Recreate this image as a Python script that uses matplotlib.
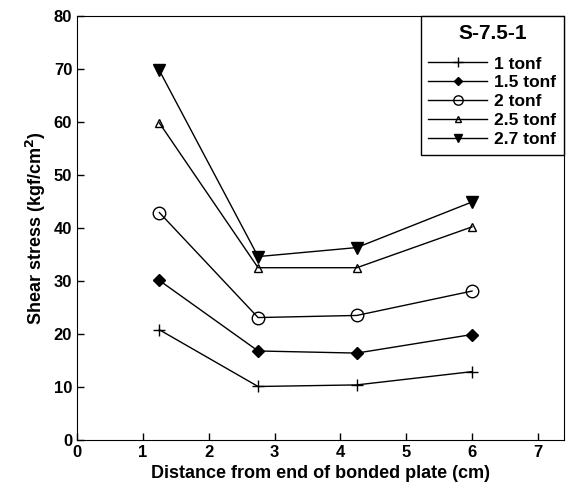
import matplotlib
matplotlib.use("Agg")
import matplotlib.pyplot as plt

plt.rcParams['font.family'] = ['Liberation Sans', 'DejaVu Sans']

distance = [1.25, 2.75, 4.25, 6.0]
labels = ["1 tonf", "1.5 tonf", "2 tonf", "2.5 tonf", "2.7 tonf"]
s_1 = [20.8, 10.1, 10.4, 12.9]
s_15 = [30.1, 16.8, 16.4, 19.9]
s_2 = [42.9, 23.1, 23.5, 28.1]
s_25 = [59.8, 32.5, 32.5, 40.2]
s_27 = [69.7, 34.6, 36.3, 44.9]
series = [s_1, s_15, s_2, s_25, s_27]
markers = ['+', 'D', 'o', '^', 'v']
mfc = ['black', 'black', 'none', 'none', 'black']
msize = [9, 6, 9, 6, 8]

fig = plt.figure(figsize=(5.71, 4.95), dpi=100)
ax = fig.add_axes([0.135, 0.111, 0.853, 0.857])

for vals, lab, m, fc, ms in zip(series, labels, markers, mfc, msize):
    ax.plot(distance, vals, color='black', lw=1.0, marker=m, markersize=ms,
            markerfacecolor=fc, markeredgecolor='black', markeredgewidth=1.0,
            label=lab)

ax.set_xlim(0, 7.4)
ax.set_ylim(0, 80)
ax.set_xticks(range(0, 8))
ax.set_yticks(range(0, 81, 10))
ax.tick_params(direction='in', length=5, labelsize=12, width=1)
for t in ax.get_xticklabels() + ax.get_yticklabels():
    t.set_fontweight('bold')
ax.set_xlabel("Distance from end of bonded plate (cm)", fontsize=13, fontweight='bold')
ax.set_ylabel("Shear stress (kgf/cm$^\\mathbf{2}$)", fontsize=13, fontweight='bold')

leg = ax.legend(loc='upper right', title="S-7.5-1\n", fancybox=False, edgecolor='black',
                framealpha=1, prop={'weight': 'bold', 'size': 12.5},
                title_fontproperties={'weight': 'bold', 'size': 15},
                handlelength=3.4, handletextpad=0.4, borderaxespad=0.0,
                borderpad=0.45, labelspacing=0.215, markerscale=0.75)
leg.get_frame().set_linewidth(1.0)
title = leg.get_title()
title.set_linespacing(0.4)

fig.savefig("out.png", dpi=100)
